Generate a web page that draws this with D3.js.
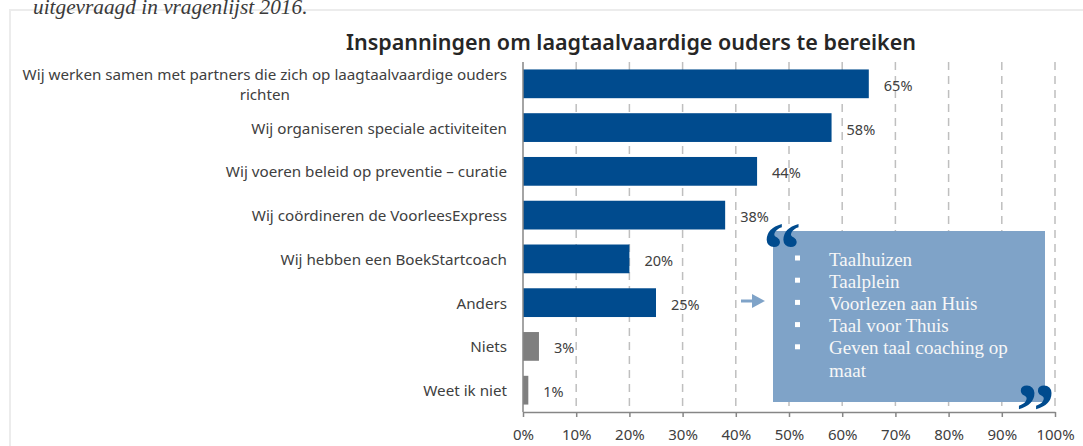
<!DOCTYPE html>
<html><head><meta charset="utf-8">
<script src="https://cdn.jsdelivr.net/npm/d3@7"></script>
<style>
html,body{margin:0;padding:0;background:#fff;}
svg{display:block;}
</style></head>
<body>
<svg id="chart" width="1083" height="446"></svg>
<script>
// ---- data ----
const categories = [
  "Wij werken samen met partners die zich op laagtaalvaardige ouders richten",
  "Wij organiseren speciale activiteiten",
  "Wij voeren beleid op preventie – curatie",
  "Wij coördineren de VoorleesExpress",
  "Wij hebben een BoekStartcoach",
  "Anders",
  "Niets",
  "Weet ik niet"
];
const values = [65, 58, 44, 38, 20, 25, 3, 1];
const grayCategories = ["Niets", "Weet ik niet"];
const xTicks = [0, 10, 20, 30, 40, 50, 60, 70, 80, 90, 100];
const calloutItems = ["Taalhuizen", "Taalplein", "Voorlezen aan Huis", "Taal voor Thuis", "Geven taal coaching op maat"];
const titleText = "Inspanningen om laagtaalvaardige ouders te bereiken";
const captionText = "uitgevraagd in vragenlijst 2016.";

// ---- drawing ----
(function () {
const svg = d3.select("#chart");
const blue = "#004b8e", gray = "#7f7f7f", textCol = "#404040";
const sans = "'Noto Sans', Roboto, sans-serif";
const serif = "'Liberation Serif', 'DejaVu Serif', serif";

// frame
svg.append("path").attr("d", "M10,446 V10 H1083").attr("fill", "none")
  .attr("stroke", "#ececec").attr("stroke-width", 2);

// caption (cut-off text at top)
svg.append("text").attr("x", 33).attr("y", 14)
  .attr("font-family", serif).attr("font-style", "italic").attr("font-size", 21.3)
  .attr("fill", "#3a3a3a").text(captionText);

// title
svg.append("text").attr("x", 631).attr("y", 50).attr("text-anchor", "middle")
  .attr("font-family", sans).attr("font-weight", 600).attr("font-size", 21.5)
  .attr("fill", "#262626").text(titleText);

const x = d3.scaleLinear().domain([0, 100]).range([523, 1055]);
const y = d3.scaleBand().domain(categories).range([62, 412]).paddingInner(0.343).paddingOuter(0.17);
const plotTop = 62, plotBottom = 412;

// gridlines
svg.append("g").selectAll("line").data(xTicks.filter(d => d > 0)).join("line")
  .attr("x1", d => x(d)).attr("x2", d => x(d)).attr("y1", plotTop).attr("y2", plotBottom)
  .attr("stroke", "#bfbfbf").attr("stroke-width", 1.5).attr("stroke-dasharray", "8,6");

// bars
svg.append("g").selectAll("rect").data(categories).join("rect")
  .attr("x", x(0)).attr("y", d => y(d))
  .attr("width", (d, i) => x(values[i]) - x(0)).attr("height", y.bandwidth())
  .attr("fill", d => grayCategories.includes(d) ? gray : blue);

// value labels
svg.append("g").selectAll("text").data(categories).join("text")
  .attr("x", (d, i) => x(values[i]) + 15).attr("y", d => y(d) + y.bandwidth() / 2 + 1)
  .attr("dominant-baseline", "central")
  .attr("font-family", sans).attr("font-size", 14.5).attr("fill", textCol)
  .text((d, i) => values[i] + "%");

// category labels (wrapped, Excel-style)
const labelRight = 507, maxW = 496;
const lg = svg.append("g").attr("font-family", sans).attr("font-size", 15.2).attr("fill", textCol);
categories.forEach(cat => {
  const t = lg.append("text");
  const words = cat.split(" ");
  let lines = [], cur = [];
  const probe = t.append("tspan");
  words.forEach(w => {
    const test = cur.concat(w).join(" ");
    probe.text(test);
    if (probe.node().getComputedTextLength() > maxW && cur.length) { lines.push(cur.join(" ")); cur = [w]; }
    else cur.push(w);
  });
  lines.push(cur.join(" "));
  probe.remove();
  const cy = y(cat) + y.bandwidth() / 2;
  const lh = 19.5;
  if (lines.length === 1) {
    t.attr("x", labelRight).attr("y", cy).attr("dominant-baseline", "central").attr("text-anchor", "end").text(lines[0]);
  } else {
    const widths = lines.map(l => { const s = t.append("tspan").text(l); const w = s.node().getComputedTextLength(); s.remove(); return w; });
    const cx = labelRight - d3.max(widths) / 2;
    t.attr("text-anchor", "middle");
    lines.forEach((l, i) => {
      t.append("tspan").attr("x", cx).attr("y", cy + (i - (lines.length - 1) / 2) * lh)
        .attr("dominant-baseline", "central").text(l);
    });
  }
});

// axes
svg.append("line").attr("x1", x(0)).attr("x2", x(0)).attr("y1", plotTop).attr("y2", plotBottom)
  .attr("stroke", "#868686").attr("stroke-width", 1.5);
const ax = svg.append("g").attr("transform", `translate(0,${plotBottom})`)
  .call(d3.axisBottom(x).tickValues(xTicks).tickFormat(d => d + "%").tickSize(5).tickSizeOuter(0).tickPadding(12));
ax.select(".domain").attr("stroke", "#868686").attr("stroke-width", 1.5);
ax.selectAll(".tick line").attr("stroke", "#868686").attr("stroke-width", 1.5);
ax.selectAll(".tick text").attr("font-family", sans).attr("font-size", 15).attr("fill", textCol);

// callout box
const box = svg.append("g");
box.append("rect").attr("x", 773).attr("y", 231).attr("width", 272).attr("height", 171).attr("fill", "#7fa3c8");
const lineH = 22.2;
let row = 0;
const tg = box.append("g").attr("font-family", serif).attr("font-size", 19).attr("fill", "#f7f7f7");
calloutItems.forEach(item => {
  const yBase = 265.5 + row * lineH;
  box.append("rect").attr("x", 795).attr("y", yBase - 10).attr("width", 5).attr("height", 5).attr("fill", "#ffffff");
  const words = item.split(" ");
  let cur = [];
  const t = tg.append("text").attr("x", 829).attr("y", yBase);
  const probe = t.append("tspan");
  let lines = [];
  words.forEach(w => {
    probe.text(cur.concat(w).join(" "));
    if (probe.node().getComputedTextLength() > 200 && cur.length) { lines.push(cur.join(" ")); cur = [w]; }
    else cur.push(w);
  });
  lines.push(cur.join(" "));
  probe.remove();
  lines.forEach((l, i) => t.append("tspan").attr("x", 829).attr("y", yBase + i * lineH).text(l));
  row += lines.length;
});

// quote marks
svg.append("text").attr("x", 763).attr("y", 275).attr("font-family", serif).attr("font-weight", "bold")
  .attr("font-size", 76).attr("fill", blue).text("\u201C");
svg.append("text").attr("x", 1016).attr("y", 437).attr("font-family", serif).attr("font-weight", "bold")
  .attr("font-size", 78).attr("fill", blue).text("\u201D");

// arrow
svg.append("line").attr("x1", 741).attr("x2", 753).attr("y1", 301).attr("y2", 301)
  .attr("stroke", "#7fa3c8").attr("stroke-width", 3);
svg.append("path").attr("d", "M752,294 L765,301 L752,308 Z").attr("fill", "#7fa3c8");
})();
</script>
</body></html>
